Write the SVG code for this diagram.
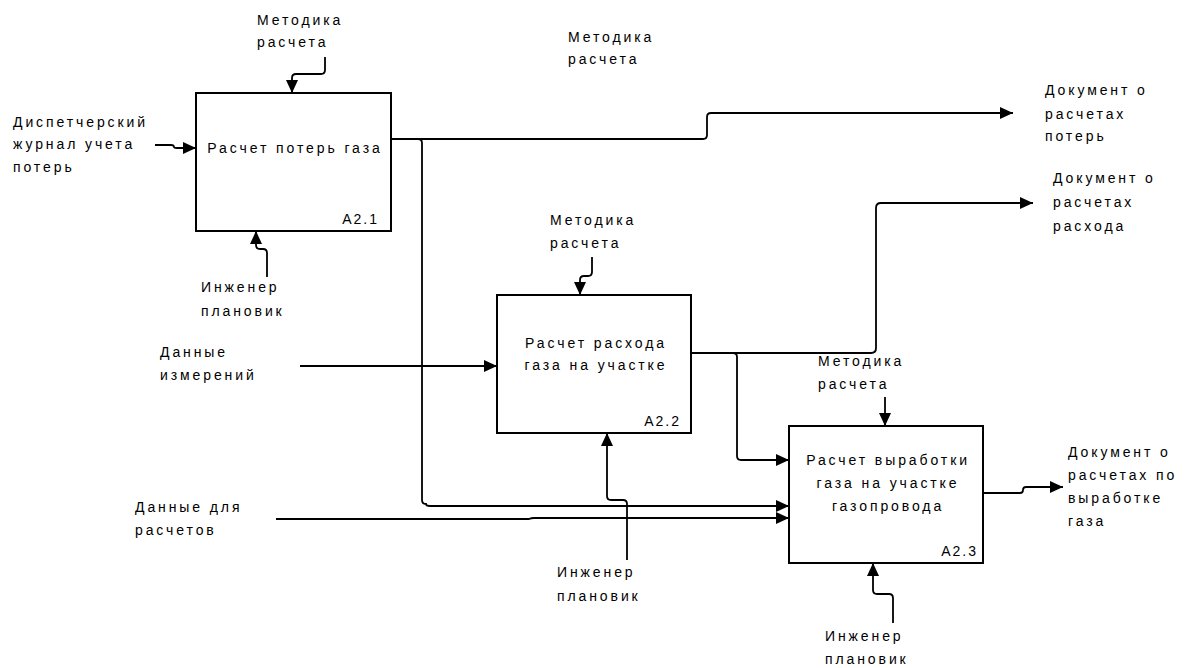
<svg xmlns="http://www.w3.org/2000/svg" width="1187" height="668" viewBox="0 0 1187 668">
  <style>
    .box { fill: #ffffff; stroke: #000000; stroke-width: 2; }
    .lbl { font-family: "Liberation Sans", Arial, sans-serif; font-size: 14px; fill: #000000; letter-spacing: 2.9px; }
    .ttl { font-family: "Liberation Sans", Arial, sans-serif; font-size: 14px; fill: #000000; letter-spacing: 2.9px; text-anchor: middle; }
    .num { font-family: "Liberation Sans", Arial, sans-serif; font-size: 14px; fill: #000000; letter-spacing: 2px; text-anchor: end; }
    .arc { fill: none; stroke: #000000; stroke-width: 1.8; }
  </style>
  <defs>
    <marker id="ah" markerUnits="userSpaceOnUse" markerWidth="14" markerHeight="12" refX="13" refY="6" orient="auto">
      <path d="M0,0 L13,6 L0,12 z" fill="#000000"/>
    </marker>
  </defs>
  <rect width="1187" height="668" fill="#ffffff"/>

  <!-- connectors -->
  <g id="connectors">
    <path class="arc" d="M155,145 H171 Q174,145 174,147 Q174,148 177,148 H196" marker-end="url(#ah)"/>
    <path class="arc" d="M325,57 V70 Q325,74 321,74 H296 Q292,74 292,78 V93" marker-end="url(#ah)"/>
    <path class="arc" d="M267,277 V253 Q267,249 263,249 H260 Q256,249 256,245 V231" marker-end="url(#ah)"/>
    <path class="arc" d="M391,139 H703 Q707,139 707,135 V117 Q707,113 711,113 H1013" marker-end="url(#ah)"/>
    <path class="arc" d="M418,139 Q422,139 422,143 V500 Q422,504 426,504 Q426,506 430,506 H789" marker-end="url(#ah)"/>
    <path class="arc" d="M276,519 H529 Q531,518 534,518 H789" marker-end="url(#ah)"/>
    <path class="arc" d="M300,366 H497" marker-end="url(#ah)"/>
    <path class="arc" d="M592,257 V272 Q592,276 588,276 H584 Q580,276 580,280 V295" marker-end="url(#ah)"/>
    <path class="arc" d="M627,560 V504 Q627,500 623,500 H611 Q607,500 607,496 V433" marker-end="url(#ah)"/>
    <path class="arc" d="M691,353 H871 Q876,353 876,348 V208 Q876,203 881,203 H1033" marker-end="url(#ah)"/>
    <path class="arc" d="M733,353 Q737,353 737,357 V456 Q737,460 741,460 H789" marker-end="url(#ah)"/>
    <path class="arc" d="M885,397 V426" marker-end="url(#ah)"/>
    <path class="arc" d="M893,623 V598 Q893,594 889,594 H877 Q873,594 873,590 V563" marker-end="url(#ah)"/>
    <path class="arc" d="M983,493 H1020 Q1023,493 1023,490 Q1023,487 1026,487 H1063" marker-end="url(#ah)"/>
  </g>

  <!-- activity A2.1 -->
  <g id="a21">
    <rect class="box" x="196" y="93" width="195" height="138"/>
    <text class="ttl" x="295" y="153">Расчет потерь газа</text>
    <text class="num" x="379" y="224">A2.1</text>
  </g>

  <!-- activity A2.2 -->
  <g id="a22">
    <rect class="box" x="497" y="295" width="194" height="138"/>
    <text class="ttl" x="596" y="348">Расчет расхода</text>
    <text class="ttl" x="596" y="370">газа на участке</text>
    <text class="num" x="681" y="426">A2.2</text>
  </g>

  <!-- activity A2.3 -->
  <g id="a23">
    <rect class="box" x="789" y="426" width="194" height="137"/>
    <text class="ttl" x="888" y="465">Расчет выработки</text>
    <text class="ttl" x="888" y="488">газа на участке</text>
    <text class="ttl" x="888" y="511">газопровода</text>
    <text class="num" x="978" y="556">A2.3</text>
  </g>

  <!-- arrow labels -->
  <g id="labels">
    <text class="lbl" x="257" y="25">Методика</text>
    <text class="lbl" x="257" y="47">расчета</text>

    <text class="lbl" x="568" y="42">Методика</text>
    <text class="lbl" x="568" y="64">расчета</text>

    <text class="lbl" x="13" y="127">Диспетчерский</text>
    <text class="lbl" x="13" y="149">журнал учета</text>
    <text class="lbl" x="13" y="172">потерь</text>

    <text class="lbl" x="201" y="292">Инженер</text>
    <text class="lbl" x="201" y="316">плановик</text>

    <text class="lbl" x="1045" y="95">Документ о</text>
    <text class="lbl" x="1045" y="119">расчетах</text>
    <text class="lbl" x="1045" y="141">потерь</text>

    <text class="lbl" x="1053" y="183">Документ о</text>
    <text class="lbl" x="1053" y="207">расчетах</text>
    <text class="lbl" x="1053" y="231">расхода</text>

    <text class="lbl" x="550" y="225">Методика</text>
    <text class="lbl" x="550" y="248">расчета</text>

    <text class="lbl" x="160" y="357">Данные</text>
    <text class="lbl" x="160" y="380">измерений</text>

    <text class="lbl" x="818" y="366">Методика</text>
    <text class="lbl" x="818" y="389">расчета</text>

    <text class="lbl" x="135" y="512">Данные для</text>
    <text class="lbl" x="135" y="535">расчетов</text>

    <text class="lbl" x="1068" y="457">Документ о</text>
    <text class="lbl" x="1068" y="480">расчетах по</text>
    <text class="lbl" x="1068" y="503">выработке</text>
    <text class="lbl" x="1068" y="526">газа</text>

    <text class="lbl" x="557" y="577">Инженер</text>
    <text class="lbl" x="557" y="601">плановик</text>

    <text class="lbl" x="825" y="641">Инженер</text>
    <text class="lbl" x="825" y="664">плановик</text>
  </g>
</svg>
